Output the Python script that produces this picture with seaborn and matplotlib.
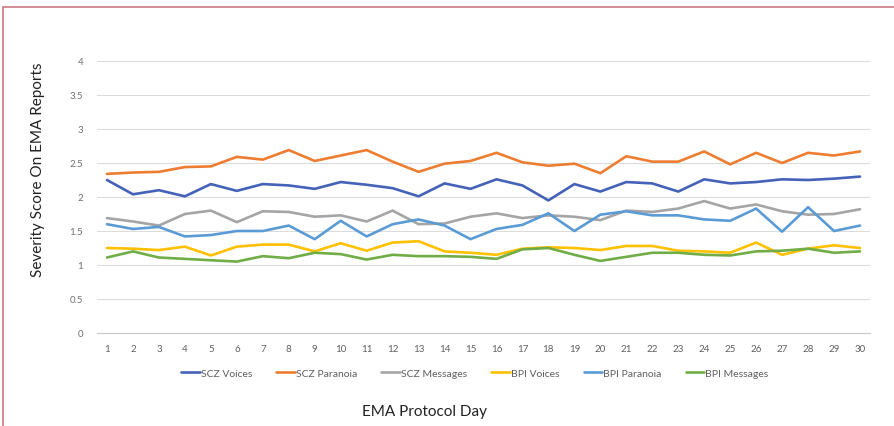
import numpy as np
import pandas as pd
import seaborn as sns
from matplotlib import pyplot as plt
from matplotlib.patches import Rectangle

# values (days 1..30)
days = list(range(1, 31))
scz_voices = [2.25, 2.04, 2.10, 2.01, 2.19, 2.09, 2.19, 2.17, 2.12, 2.22,
              2.18, 2.13, 2.01, 2.20, 2.12, 2.26, 2.17, 1.95, 2.19, 2.08,
              2.22, 2.20, 2.08, 2.26, 2.20, 2.22, 2.26, 2.25, 2.27, 2.30]
scz_paranoia = [2.34, 2.36, 2.37, 2.44, 2.45, 2.59, 2.55, 2.69, 2.53, 2.61,
                2.69, 2.52, 2.37, 2.49, 2.53, 2.65, 2.51, 2.46, 2.49, 2.35,
                2.60, 2.52, 2.52, 2.67, 2.48, 2.65, 2.50, 2.65, 2.61, 2.67]
scz_messages = [1.69, 1.64, 1.58, 1.75, 1.80, 1.63, 1.79, 1.78, 1.71, 1.73,
                1.64, 1.80, 1.60, 1.61, 1.71, 1.76, 1.69, 1.73, 1.71, 1.66,
                1.80, 1.78, 1.83, 1.94, 1.83, 1.89, 1.79, 1.74, 1.75, 1.82]
bpi_voices = [1.25, 1.24, 1.22, 1.27, 1.14, 1.27, 1.30, 1.30, 1.20, 1.32,
              1.21, 1.33, 1.35, 1.20, 1.18, 1.15, 1.24, 1.26, 1.25, 1.22,
              1.28, 1.28, 1.21, 1.20, 1.18, 1.33, 1.15, 1.24, 1.29, 1.25]
bpi_paranoia = [1.60, 1.53, 1.56, 1.42, 1.44, 1.50, 1.50, 1.58, 1.38, 1.65,
                1.42, 1.60, 1.67, 1.58, 1.38, 1.53, 1.59, 1.76, 1.50, 1.74,
                1.79, 1.73, 1.73, 1.67, 1.65, 1.83, 1.49, 1.85, 1.50, 1.58]
bpi_messages = [1.11, 1.20, 1.11, 1.09, 1.07, 1.05, 1.13, 1.10, 1.18, 1.16,
                1.08, 1.15, 1.13, 1.13, 1.12, 1.09, 1.23, 1.25, 1.15, 1.06,
                1.12, 1.18, 1.18, 1.15, 1.14, 1.20, 1.21, 1.24, 1.18, 1.20]

series = ['SCZ Voices', 'SCZ Paranoia', 'SCZ Messages',
          'BPI Voices', 'BPI Paranoia', 'BPI Messages']
colors = ['#4462b8', '#ED7D31', '#A5A5A5', '#FFC000', '#5B9BD5', '#70AD47']

df = pd.DataFrame({'Day': days,
                   'SCZ Voices': scz_voices,
                   'SCZ Paranoia': scz_paranoia,
                   'SCZ Messages': scz_messages,
                   'BPI Voices': bpi_voices,
                   'BPI Paranoia': bpi_paranoia,
                   'BPI Messages': bpi_messages})
df = df.melt(id_vars='Day', var_name='Series', value_name='Score')

sns.set_style('white')
plt.rcParams['font.family'] = ['Lato', 'DejaVu Sans']

fig = plt.figure(figsize=(8.95, 4.27), dpi=100)
ax = fig.add_axes([97 / 895, 1 - 334 / 427, 773 / 895, 272 / 427])

sns.lineplot(data=df, x='Day', y='Score', hue='Series', hue_order=series,
             palette=colors, linewidth=1.9, ax=ax)

ax.set_ylim(0, 4)
yt = np.arange(0, 4.01, 0.5)
ax.set_yticks(yt)
ax.set_yticklabels([('%g' % v) for v in yt])
ax.set_xlim(0.615, 30.385)
ax.set_xticks(days)
ax.yaxis.grid(True, color='#dcdcdc', linewidth=0.8)
ax.xaxis.grid(False)
ax.set_axisbelow(True)
for s in ['top', 'right', 'left']:
    ax.spines[s].set_visible(False)
ax.spines['bottom'].set_color('#c8c8c8')
ax.spines['bottom'].set_linewidth(0.8)
ax.tick_params(axis='y', length=0, pad=10, labelsize=7, labelcolor='#707070')
ax.tick_params(axis='x', length=0, pad=8, labelsize=7, labelcolor='#606060')
ax.set_xlabel('')
ax.set_ylabel('')

ax.get_legend().remove()
handles, labels = ax.get_legend_handles_labels()
fig.legend(handles, labels, loc='center', bbox_to_anchor=(475 / 895, 1 - 374 / 427),
           ncol=6, frameon=False, fontsize=7.5, handlelength=1.8, handletextpad=0.1,
           columnspacing=2.3, labelcolor='#606060')

fig.text(38 / 895, 1 - 170 / 427, 'Severity Score On EMA Reports', rotation=90,
         ha='center', va='center', fontsize=11, color='#222222')
fig.text(425 / 895, 1 - 412 / 427, 'EMA Protocol Day', ha='center', va='center',
         fontsize=11, color='#222222')

# thin reddish frame around the figure, as in the source
fig.patches.append(Rectangle((3 / 895, -0.1), 1.2, 1 - 8 / 427 + 0.1,
                             transform=fig.transFigure, fill=False,
                             edgecolor='#c9787f', linewidth=1.2))

fig.savefig('out.png', dpi=100)
